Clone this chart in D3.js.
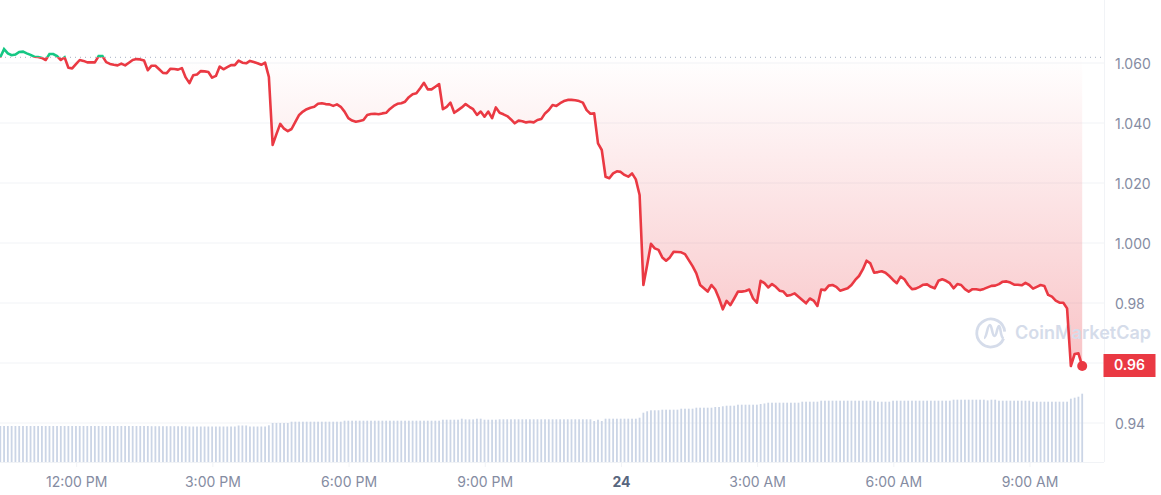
<!DOCTYPE html>
<html>
<head>
<meta charset="utf-8">
<script src="https://cdn.jsdelivr.net/npm/d3@7"></script>
<style>
	html, body { margin: 0; padding: 0; background: #fff; }
	svg { display: block; font-family: Inter, sans-serif; }
	.domain { display: none; }
</style>
</head>
<body>
<div id="chart"></div>
<script>
// price every 5 minutes
var prices = [
	1.0619,1.0646,1.0632,1.0626,1.0628,1.0637,1.0638,1.0632,1.0627,1.0621,
	1.0620,1.0617,1.0610,1.0630,1.0630,1.0623,1.0610,1.0619,1.0584,1.0582,
	1.0596,1.0610,1.0607,1.0602,1.0602,1.0602,1.0623,1.0623,1.0603,1.0597,
	1.0594,1.0592,1.0598,1.0592,1.0601,1.0610,1.0613,1.0612,1.0608,1.0576,
	1.0591,1.0591,1.0579,1.0567,1.0566,1.0581,1.0580,1.0578,1.0583,1.0552,
	1.0533,1.0559,1.0562,1.0573,1.0572,1.0570,1.0551,1.0557,1.0588,1.0579,
	1.0586,1.0593,1.0593,1.0608,1.0601,1.0599,1.0607,1.0603,1.0599,1.0594,
	1.0601,1.0554,1.0327,1.0363,1.0397,1.0381,1.0373,1.0380,1.0404,1.0427,
	1.0438,1.0446,1.0451,1.0454,1.0464,1.0466,1.0463,1.0462,1.0457,1.0462,
	1.0454,1.0438,1.0416,1.0408,1.0404,1.0407,1.0410,1.0427,1.0430,1.0431,
	1.0429,1.0432,1.0434,1.0447,1.0457,1.0464,1.0466,1.0471,1.0486,1.0496,
	1.0499,1.0516,1.0534,1.0512,1.0512,1.0521,1.0530,1.0446,1.0454,1.0468,
	1.0434,1.0443,1.0452,1.0463,1.0454,1.0446,1.0427,1.0438,1.0421,1.0438,
	1.0416,1.0452,1.0434,1.0429,1.0423,1.0412,1.0399,1.0408,1.0406,1.0402,
	1.0404,1.0402,1.0410,1.0413,1.0432,1.0443,1.0460,1.0457,1.0466,1.0473,
	1.0477,1.0477,1.0476,1.0473,1.0468,1.0443,1.0431,1.0432,1.0332,1.0310,
	1.0221,1.0216,1.0232,1.0239,1.0237,1.0227,1.0221,1.0232,1.0212,1.0160,
	0.9860,0.9927,0.9997,0.9982,0.9977,0.9952,0.9941,0.9952,0.9971,0.9970,
	0.9969,0.9963,0.9943,0.9923,0.9899,0.9860,0.9849,0.9838,0.9860,0.9845,
	0.9815,0.9779,0.9807,0.9793,0.9815,0.9838,0.9838,0.9840,0.9845,0.9815,
	0.9801,0.9874,0.9866,0.9852,0.9863,0.9854,0.9841,0.9838,0.9824,0.9827,
	0.9832,0.9821,0.9810,0.9799,0.9815,0.9808,0.9790,0.9845,0.9843,0.9858,
	0.9860,0.9854,0.9841,0.9845,0.9849,0.9860,0.9877,0.9890,0.9912,0.9941,
	0.9932,0.9901,0.9903,0.9906,0.9901,0.9890,0.9877,0.9866,0.9888,0.9879,
	0.9860,0.9846,0.9848,0.9854,0.9861,0.9862,0.9854,0.9849,0.9874,0.9879,
	0.9874,0.9866,0.9849,0.9863,0.9860,0.9846,0.9838,0.9846,0.9846,0.9843,
	0.9847,0.9852,0.9857,0.9858,0.9863,0.9871,0.9872,0.9868,0.9861,0.9861,
	0.9859,0.9867,0.9860,0.9848,0.9854,0.9860,0.9857,0.9827,0.9821,0.9808,
	0.9801,0.9801,0.9782,0.9590,0.9630,0.9632,0.9590
];

// rolling volume, arbitrary units since the chart has no volume axis
var volumes = [
	36,36,36,36,36,36,36,36,36,36,36,36,36,36,36,36,36,36,36,36,
	36,36,36,36,36,36,36,36,36,36,36,36,36,36,36,36,36,36,36,36,
	35.8,35.8,35.8,35.8,35.8,35.8,35.8,35.8,35.8,35.8,35.5,35.5,35.5,35.5,35.5,35.5,35.5,35.5,35.5,35.5,
	35.5,35.5,35.5,36.5,36.5,36.5,35.5,35.5,35.5,35.5,35.5,36.7,39,39,39,39,39,40.3,40.3,40.3,
	40.3,40.3,40.3,40.3,40.3,40.3,40.3,40.3,40.3,40.3,40.3,41.3,41.3,41.3,41.3,41.3,41.3,41.3,41.3,41.3,
	41.3,41.3,41.3,41.3,41.3,41.3,41.3,41.3,41.3,41.3,41.3,41.3,41.3,41.3,41.3,41.3,41.3,42.3,42.3,42.3,
	42.3,42.3,43.3,42.6,42.6,42.6,43.3,43.3,42.3,42.3,42.3,42.3,42.7,42.7,42.7,42.7,42.7,42.7,42.7,42.7,
	42.7,42.7,42.7,42.7,42.7,42.7,42.7,42.7,42.7,42.7,42.7,42.7,42.7,42.7,42.7,42.7,42.7,41,42.3,41,
	43.3,43.3,43.3,43.3,43.3,43.3,43.3,43.3,43.3,44.3,49.3,50.7,51.7,51.7,51.7,52.3,52.3,52.3,52.3,52.3,
	53.3,53.3,53.3,53.3,54.3,54.3,54.3,54.3,54.3,55,55,55.7,56.3,56.3,56.3,57.3,57.3,57.3,57.3,57.3,
	57.3,58,58.5,59.3,59.3,59.3,59.3,59.3,59.3,59.3,59.3,59.3,60.3,60.3,60.3,60.3,60.3,61.3,61.3,61.3,
	61.3,61.3,61.3,61.3,61.3,61.3,61.3,61.3,61.3,61.3,61.3,61.3,60.3,60.3,60.3,60.3,61.3,61.3,61.3,61.3,
	61.3,61.3,61.3,61.3,61.3,61.3,61.3,61.3,61.3,61.3,61.3,61.3,62.3,62.3,62.3,62.3,62.3,62.3,62.3,62.3,
	62.3,61.6,62.3,62.3,61.3,61.3,61.3,61.3,61.3,61.3,61.3,61.3,61.3,60.3,60.3,60.3,60.3,60.3,60.3,60.3,
	60.3,60.3,60.3,63.3,64.3,65.3,68.3
];

var priceTicks = [1.06, 1.04, 1.02, 1.00, 0.98, 0.96, 0.94];
var priceTickLabels = ["1.060", "1.040", "1.020", "1.000", "0.98", "0.96", "0.94"];
var lastPriceLabel = "0.96";

var width = 1161;
var height = 495;
var plotRight = 1104;
var plotBottom = 462;
var red = "#ea3943";
var green = "#16c784";
var tickColor = "#858ca2";
var gridColor = "#f1f3f6";

var startTime = new Date(2023, 0, 23, 10, 19);
var data = prices.map(function(p, i) {
	return { time: d3.timeMinute.offset(startTime, i * 5), price: p, volume: volumes[i] };
});
var basePrice = prices[0];

var x = d3.scaleTime()
	.domain([new Date(2023, 0, 23, 12, 0), new Date(2023, 0, 24, 9, 0)])
	.range([76.7, 1030]);
var y = d3.scaleLinear().domain([1.06, 0.94]).range([63, 423]);
var volumeY = d3.scaleLinear().domain([0, 100]).range([plotBottom, plotBottom - 100]);

var svg = d3.select("#chart").append("svg")
	.attr("width", width)
	.attr("height", height);

var defs = svg.append("defs");
var redFade = defs.append("linearGradient")
	.attr("id", "redFade")
	.attr("gradientUnits", "userSpaceOnUse")
	.attr("x1", 0).attr("x2", 0)
	.attr("y1", y(basePrice)).attr("y2", y(d3.min(prices)));
redFade.append("stop").attr("offset", 0).attr("stop-color", red).attr("stop-opacity", 0);
redFade.append("stop").attr("offset", 1).attr("stop-color", red).attr("stop-opacity", 0.3);

defs.append("clipPath").attr("id", "aboveBase").append("rect")
	.attr("x", 0).attr("y", 0).attr("width", plotRight).attr("height", y(basePrice));
defs.append("clipPath").attr("id", "belowBase").append("rect")
	.attr("x", 0).attr("y", y(basePrice)).attr("width", plotRight).attr("height", plotBottom - y(basePrice));

// grid
svg.append("g").selectAll("line")
	.data(priceTicks)
	.enter().append("line")
	.attr("x1", 0).attr("x2", plotRight)
	.attr("y1", function(d) { return y(d); })
	.attr("y2", function(d) { return y(d); })
	.style("stroke", gridColor);

svg.append("line")
	.attr("x1", plotRight + 0.5).attr("x2", plotRight + 0.5)
	.attr("y1", 0).attr("y2", plotBottom)
	.style("stroke", gridColor);

// volume bars
svg.append("g").selectAll("rect")
	.data(data)
	.enter().append("rect")
	.attr("x", function(d) { return x(d.time) - 0.9; })
	.attr("width", 1.8)
	.attr("y", function(d) { return volumeY(d.volume); })
	.attr("height", function(d) { return plotBottom - volumeY(d.volume); })
	.style("fill", "#cbd5e6");

// fill between the opening price and the line
var area = d3.area()
	.x(function(d) { return x(d.time); })
	.y0(y(basePrice))
	.y1(function(d) { return y(d.price); });

svg.append("path").datum(data)
	.attr("d", area)
	.attr("clip-path", "url(#belowBase)")
	.style("fill", "url(#redFade)");

// watermark
var mark = svg.append("g").style("fill", "none").style("stroke", "#d5dcea");
mark.append("path")
	.attr("d", "M1003.6 338.6 A14 14 0 1 1 1004.7 331.7")
	.style("stroke-width", 2.8);
mark.append("path")
	.attr("d", "M984 338 C987 338 987 325 990 325 C992 325 992 336 994.5 336 C997 336 997 326 999 326 C1001 326 1000 337 1003.6 338.6")
	.style("stroke-width", 2.6);
svg.append("text")
	.attr("x", 1015).attr("y", 339)
	.style("font-size", "18px")
	.style("font-weight", 600)
	.style("fill", "#d5dcea")
	.text("CoinMarketCap");

// opening price
svg.append("line")
	.attr("x1", 0).attr("x2", plotRight)
	.attr("y1", y(basePrice)).attr("y2", y(basePrice))
	.style("stroke", "#a6afc2")
	.style("stroke-dasharray", "1 4");

var line = d3.line()
	.x(function(d) { return x(d.time); })
	.y(function(d) { return y(d.price); });

svg.append("path").datum(data)
	.attr("d", line)
	.attr("clip-path", "url(#aboveBase)")
	.style("fill", "none").style("stroke", green).style("stroke-width", 2.6);
svg.append("path").datum(data)
	.attr("d", line)
	.attr("clip-path", "url(#belowBase)")
	.style("fill", "none").style("stroke", red).style("stroke-width", 2.6)
	.style("stroke-linejoin", "round");

var last = data[data.length - 1];
svg.append("circle")
	.attr("cx", x(last.time)).attr("cy", y(last.price))
	.attr("r", 5)
	.style("fill", red);

// axes
var yAxis = d3.axisRight(y)
	.tickValues(priceTicks)
	.tickSize(0)
	.tickPadding(11)
	.tickFormat(function(d, i) { return priceTickLabels[i]; });
var yGroup = svg.append("g")
	.attr("transform", "translate(" + plotRight + ",0.7)")
	.call(yAxis);
yGroup.selectAll("text")
	.style("font-family", "Inter, sans-serif")
	.style("font-size", "14px")
	.style("fill", tickColor);

var hourFormat = d3.timeFormat("%-I:%M %p");
var dayFormat = d3.timeFormat("%-d");
var isMidnight = function(d) { return d.getHours() === 0; };
var xAxis = d3.axisBottom(x)
	.ticks(d3.timeHour.every(3))
	.tickSize(5)
	.tickPadding(10)
	.tickFormat(function(d) { return isMidnight(d) ? dayFormat(d) : hourFormat(d); });
var xGroup = svg.append("g")
	.attr("transform", "translate(-0.5," + plotBottom + ")")
	.call(xAxis);
xGroup.selectAll("line").style("stroke", gridColor);
xGroup.selectAll("text")
	.style("font-family", "Inter, sans-serif")
	.style("font-size", "14px")
	.style("font-weight", function(d) { return isMidnight(d) ? 700 : 400; })
	.style("fill", function(d) { return isMidnight(d) ? "#58667e" : tickColor; });

svg.append("line")
	.attr("x1", 0).attr("x2", plotRight)
	.attr("y1", plotBottom + 0.5).attr("y2", plotBottom + 0.5)
	.style("stroke", gridColor);

// current price tag
svg.append("rect")
	.attr("x", plotRight - 0.5).attr("y", y(last.price) - 12)
	.attr("width", 52).attr("height", 23)
	.style("fill", red);
svg.append("text")
	.attr("x", plotRight + 25.5).attr("y", y(last.price) + 0.5)
	.attr("text-anchor", "middle")
	.attr("dominant-baseline", "middle")
	.style("font-size", "14px")
	.style("font-weight", 600)
	.style("fill", "#fff")
	.text(lastPriceLabel);

console.log(prices.length, volumes.length);
</script>
</body>
</html>
